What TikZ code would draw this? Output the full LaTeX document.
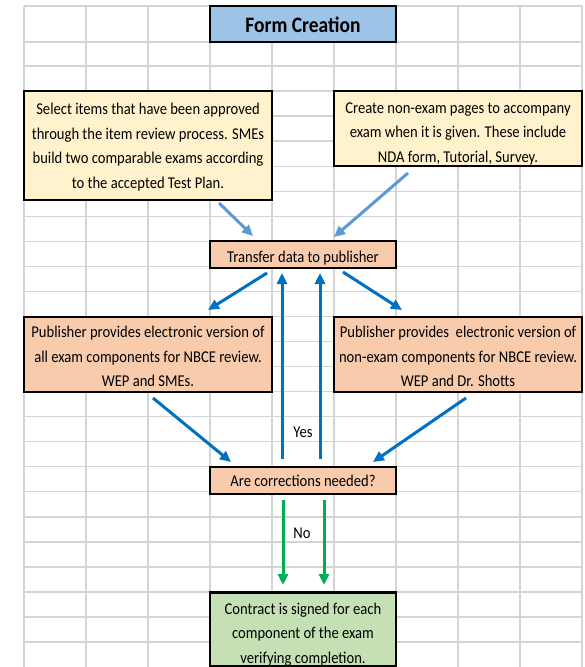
\documentclass[tikz,border=0pt]{standalone}
\usepackage{fontspec}
\setmainfont{Carlito}
\usetikzlibrary{arrows.meta,calc}
\definecolor{gridc}{HTML}{D4D4D4}
\definecolor{titlefill}{HTML}{9DC3E6}
\definecolor{cream}{HTML}{FFF2CC}
\definecolor{peach}{HTML}{F8CBAD}
\definecolor{lgreen}{HTML}{C5E0B4}
\definecolor{lblue}{HTML}{5B9BD5}
\definecolor{dblue}{HTML}{0070C0}
\definecolor{arrgreen}{HTML}{00B050}
% vertically stretched, optionally lowered text block
\newcommand{\boxtext}[2][0pt]{\raisebox{-#1}[\height][\depth]{\scalebox{1}[1.13]{\begin{tabular}{@{}c@{}}#2\end{tabular}}}}
\tikzset{
  gridline/.style={draw=gridc, line width=1.3pt},
  box/.style={draw=black, line width=2.5pt, inner sep=0pt, align=center,
    font=\fontsize{14.6}{21.7}\selectfont},
  plain/.style={inner sep=0pt, font=\fontsize{14.6}{17}\selectfont},
  conn/.style={line width=3pt, -{Triangle[length=11pt,width=10pt]}},
  lconn/.style={conn, draw=lblue, fill=lblue},
  dconn/.style={conn, draw=dblue, fill=dblue},
  gconn/.style={conn, draw=arrgreen, fill=arrgreen},
}
\begin{document}
\begin{tikzpicture}[x=1pt,y=-1pt]
\useasboundingbox (0,0) rectangle (585,667);
\fill[white] (0,0) rectangle (585,667);
% spreadsheet grid
\foreach \x in {24,86,148,210,272,334,396,458,520,582}
  \draw[gridline] (\x,6) -- (\x,667);
\foreach \y in {6,42,66}
  \draw[gridline] (24,\y) -- (582,\y);
\foreach \k in {0,...,22}
  \draw[gridline] (24,{91+25.05*\k}) -- (582,{91+25.05*\k});
% boxes
\node[box, fill=titlefill, minimum width=186pt, minimum height=36pt,
  font=\bfseries\fontsize{19.5}{22}\selectfont] (title) at (303,24) {\boxtext[3.5pt]{Form Creation}};
\node[box, fill=cream, minimum width=248pt, minimum height=109pt] (select) at (148,145.5)
  {\boxtext[1pt]{Select items that have been approved\\through the item review process. SMEs\\build two comparable exams according\\to the accepted Test Plan.}};
\node[box, fill=cream, minimum width=248pt, minimum height=75pt] (create) at (458,128.5)
  {\boxtext[4.5pt]{Create non-exam pages to accompany\\exam when it is given. These include\\NDA form, Tutorial, Survey.}};
\node[box, fill=peach, minimum width=186pt, minimum height=27pt] (transfer) at (303,254.5)
  {\boxtext[3pt]{Transfer data to publisher}};
\node[box, fill=peach, minimum width=248pt, minimum height=75pt] (publeft) at (148,354.5)
  {\boxtext[3pt]{Publisher provides electronic version of\\all exam components for NBCE review.\\WEP and SMEs.}};
\node[box, fill=peach, minimum width=248pt, minimum height=75pt] (pubright) at (458,354.5)
  {\boxtext[3pt]{Publisher provides\ \ electronic version of\\non-exam components for NBCE review.\\WEP and Dr. Shotts}};
\node[box, fill=peach, minimum width=186pt, minimum height=27pt] (corr) at (303,480.5)
  {\boxtext[1pt]{Are corrections needed?}};
\node[box, fill=lgreen, minimum width=186pt, minimum height=73pt] (contract) at (303,629.5)
  {\boxtext[4.5pt]{Contract is signed for each\\component of the exam\\verifying completion.}};
% labels
\node[plain] (yes) at (303,432) {\scalebox{1}[1.13]{Yes}};
\node[plain] (no) at (302,533) {\scalebox{1}[1.13]{No}};
% connector end points
\coordinate (s1) at (219,203);
\coordinate (e1) at (253,236);
\coordinate (s2) at (408,173);
\coordinate (e2) at (334,237);
\coordinate (s3) at (267,273);
\coordinate (e3) at (208,310);
\coordinate (s4) at (343,272);
\coordinate (e4) at (402,310);
\coordinate (s5) at (282,459);
\coordinate (e5) at (282,273);
\coordinate (s6) at (320,459);
\coordinate (e6) at (320,273);
\coordinate (s7) at (153,398);
\coordinate (e7) at (231,462);
\coordinate (s8) at (466,398);
\coordinate (e8) at (373,462);
\coordinate (s9) at (283,500);
\coordinate (e9) at (283,585);
\coordinate (s10) at (324,500);
\coordinate (e10) at (324,585);
% connectors
\draw[lconn] (s1) -- (e1);
\draw[lconn] (s2) -- (e2);
\draw[dconn] (s3) -- (e3);
\draw[dconn] (s4) -- (e4);
\draw[dconn] (s5) -- (e5);
\draw[dconn] (s6) -- (e6);
\draw[dconn] (s7) -- (e7);
\draw[dconn] (s8) -- (e8);
\draw[gconn] (s9) -- (e9);
\draw[gconn] (s10) -- (e10);
\end{tikzpicture}
\end{document}
